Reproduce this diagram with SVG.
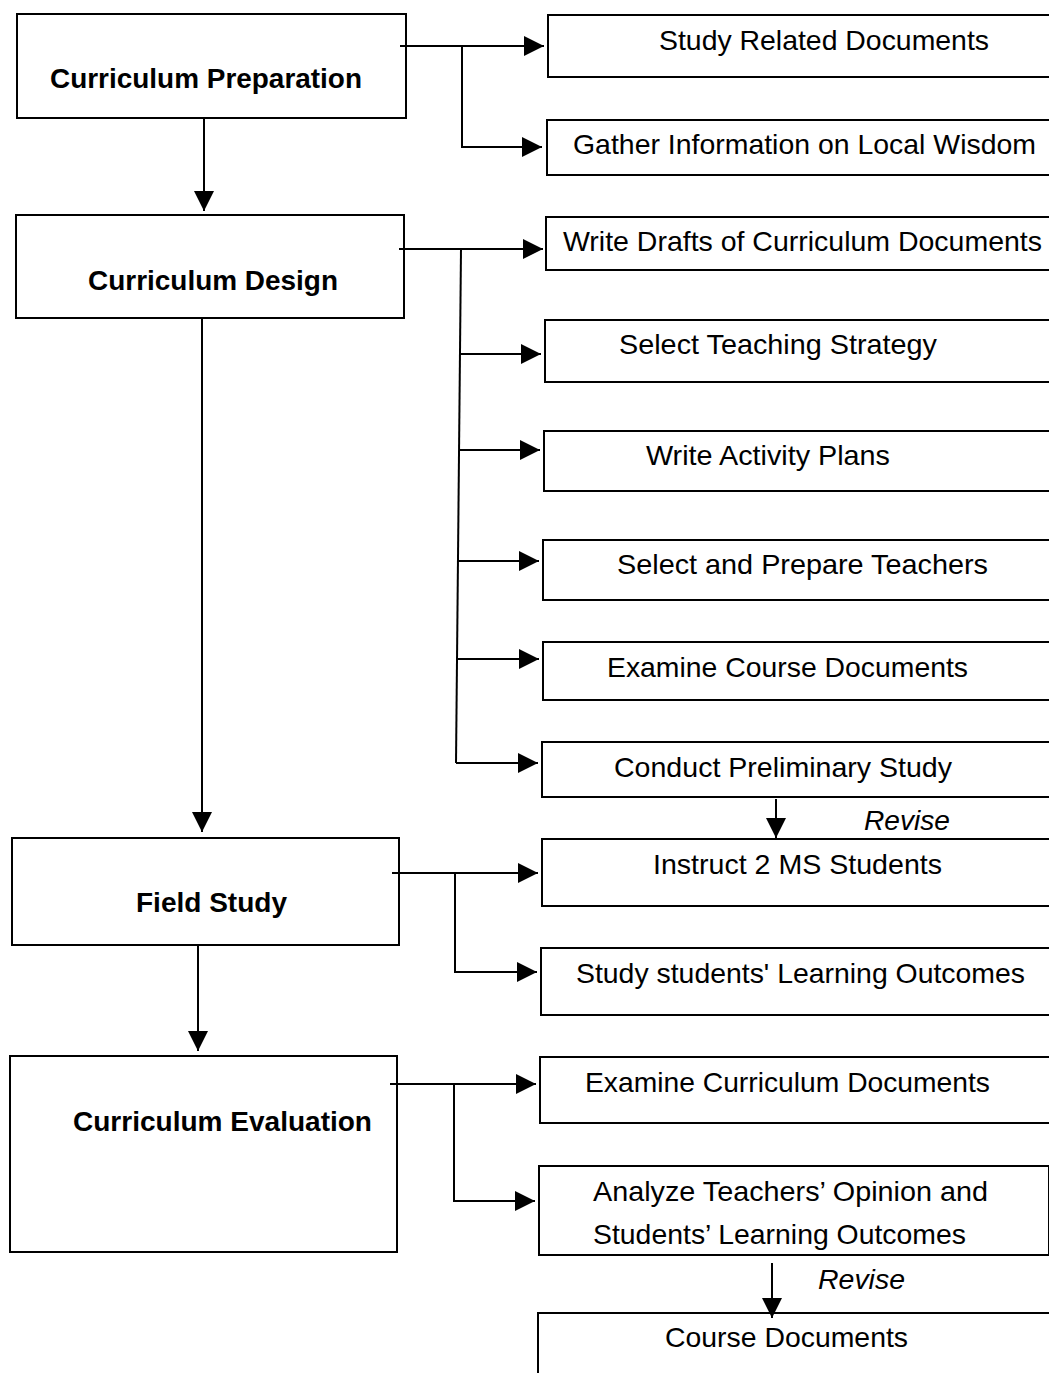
<svg xmlns="http://www.w3.org/2000/svg" width="1049" height="1373" viewBox="0 0 1049 1373">
  <style>
    .box { fill: #ffffff; stroke: #000000; stroke-width: 2; }
    .stage { font-family: "Liberation Sans", Arial, sans-serif; font-weight: bold; font-size: 27px; fill: #000000; }
    .task { font-family: "Liberation Sans", Arial, sans-serif; font-size: 28px; fill: #000000; }
    .note { font-family: "Liberation Sans", Arial, sans-serif; font-style: italic; font-size: 27px; fill: #000000; }
    .link { fill: none; stroke: #000000; stroke-width: 2; }
    .arrow { fill: none; stroke: #000000; stroke-width: 2; marker-end: url(#head); }
  </style>
  <defs>
    <marker id="head" viewBox="0 0 20 20" refX="20" refY="10" markerWidth="20" markerHeight="20" markerUnits="userSpaceOnUse" orient="auto">
      <path d="M0,0 L20,10 L0,20 Z" fill="#000000"/>
    </marker>
  </defs>
  <rect width="1049" height="1373" fill="#ffffff"/>

  <!-- main stages -->
  <g id="curriculum-preparation">
    <rect class="box" x="17" y="14" width="389" height="104"/>
    <text class="stage" x="50" y="88" textLength="312" lengthAdjust="spacingAndGlyphs">Curriculum Preparation</text>
  </g>
  <g id="curriculum-design">
    <rect class="box" x="16" y="215" width="388" height="103"/>
    <text class="stage" x="88" y="290" textLength="250" lengthAdjust="spacingAndGlyphs">Curriculum Design</text>
  </g>
  <g id="field-study">
    <rect class="box" x="12" y="838" width="387" height="107"/>
    <text class="stage" x="136" y="912" textLength="151" lengthAdjust="spacingAndGlyphs">Field Study</text>
  </g>
  <g id="curriculum-evaluation">
    <rect class="box" x="10" y="1056" width="387" height="196"/>
    <text class="stage" x="73" y="1131" textLength="299" lengthAdjust="spacingAndGlyphs">Curriculum Evaluation</text>
  </g>

  <!-- tasks -->
  <g id="study-related-documents">
    <rect class="box" x="548" y="15" width="510" height="62"/>
    <text class="task" x="659" y="50" textLength="330" lengthAdjust="spacingAndGlyphs">Study Related Documents</text>
  </g>
  <g id="gather-information">
    <rect class="box" x="547" y="120" width="510" height="55"/>
    <text class="task" x="573" y="154" textLength="463" lengthAdjust="spacingAndGlyphs">Gather Information on Local Wisdom</text>
  </g>
  <g id="write-drafts">
    <rect class="box" x="546" y="217" width="510" height="53"/>
    <text class="task" x="563" y="251" textLength="479" lengthAdjust="spacingAndGlyphs">Write Drafts of Curriculum Documents</text>
  </g>
  <g id="select-teaching-strategy">
    <rect class="box" x="545" y="320" width="510" height="62"/>
    <text class="task" x="619" y="354" textLength="318" lengthAdjust="spacingAndGlyphs">Select Teaching Strategy</text>
  </g>
  <g id="write-activity-plans">
    <rect class="box" x="544" y="431" width="510" height="60"/>
    <text class="task" x="646" y="465" textLength="244" lengthAdjust="spacingAndGlyphs">Write Activity Plans</text>
  </g>
  <g id="select-prepare-teachers">
    <rect class="box" x="543" y="540" width="510" height="60"/>
    <text class="task" x="617" y="574" textLength="371" lengthAdjust="spacingAndGlyphs">Select and Prepare Teachers</text>
  </g>
  <g id="examine-course-documents">
    <rect class="box" x="543" y="642" width="510" height="58"/>
    <text class="task" x="607" y="677" textLength="361" lengthAdjust="spacingAndGlyphs">Examine Course Documents</text>
  </g>
  <g id="conduct-preliminary-study">
    <rect class="box" x="542" y="742" width="510" height="55"/>
    <text class="task" x="614" y="777" textLength="338" lengthAdjust="spacingAndGlyphs">Conduct Preliminary Study</text>
  </g>
  <g id="instruct-students">
    <rect class="box" x="542" y="839" width="510" height="67"/>
    <text class="task" x="653" y="874" textLength="289" lengthAdjust="spacingAndGlyphs">Instruct 2 MS Students</text>
  </g>
  <g id="study-learning-outcomes">
    <rect class="box" x="541" y="948" width="510" height="67"/>
    <text class="task" x="576" y="983" textLength="449" lengthAdjust="spacingAndGlyphs">Study students' Learning Outcomes</text>
  </g>
  <g id="examine-curriculum-documents">
    <rect class="box" x="540" y="1057" width="510" height="66"/>
    <text class="task" x="585" y="1092" textLength="405" lengthAdjust="spacingAndGlyphs">Examine Curriculum Documents</text>
  </g>
  <g id="analyze-opinion">
    <rect class="box" x="539" y="1166" width="510" height="89"/>
    <text class="task" x="593" y="1201" textLength="395" lengthAdjust="spacingAndGlyphs">Analyze Teachers’ Opinion and</text>
    <text class="task" x="593" y="1244" textLength="373" lengthAdjust="spacingAndGlyphs">Students’ Learning Outcomes</text>
  </g>
  <g id="course-documents">
    <rect class="box" x="538" y="1313" width="512" height="80"/>
    <text class="task" x="665" y="1347" textLength="243" lengthAdjust="spacingAndGlyphs">Course Documents</text>
  </g>

  <!-- connectors -->
  <g id="connectors">
    <line class="arrow" x1="204" y1="118" x2="204" y2="211"/>
    <line class="arrow" x1="202" y1="318" x2="202" y2="832"/>
    <line class="arrow" x1="198" y1="945" x2="198" y2="1051"/>

    <line class="arrow" x1="400" y1="46" x2="544" y2="46"/>
    <polyline class="arrow" points="462,46 462,147 542,147"/>

    <line class="arrow" x1="399" y1="249" x2="543" y2="249"/>
    <line class="link" x1="461" y1="249" x2="456" y2="763"/>
    <line class="arrow" x1="460" y1="354" x2="541" y2="354"/>
    <line class="arrow" x1="460" y1="450" x2="540" y2="450"/>
    <line class="arrow" x1="458" y1="561" x2="539" y2="561"/>
    <line class="arrow" x1="457" y1="659" x2="539" y2="659"/>
    <line class="arrow" x1="456" y1="763" x2="538" y2="763"/>

    <line class="arrow" x1="776" y1="799" x2="776" y2="838"/>

    <line class="arrow" x1="392" y1="873" x2="538" y2="873"/>
    <polyline class="arrow" points="455,873 455,972 537,972"/>

    <line class="arrow" x1="390" y1="1084" x2="536" y2="1084"/>
    <polyline class="arrow" points="454,1084 454,1201 535,1201"/>

    <line class="arrow" x1="772" y1="1263" x2="772" y2="1318"/>
  </g>

  <text class="note" x="864" y="830" textLength="86" lengthAdjust="spacingAndGlyphs">Revise</text>
  <text class="note" x="818" y="1289" textLength="87" lengthAdjust="spacingAndGlyphs">Revise</text>
</svg>
